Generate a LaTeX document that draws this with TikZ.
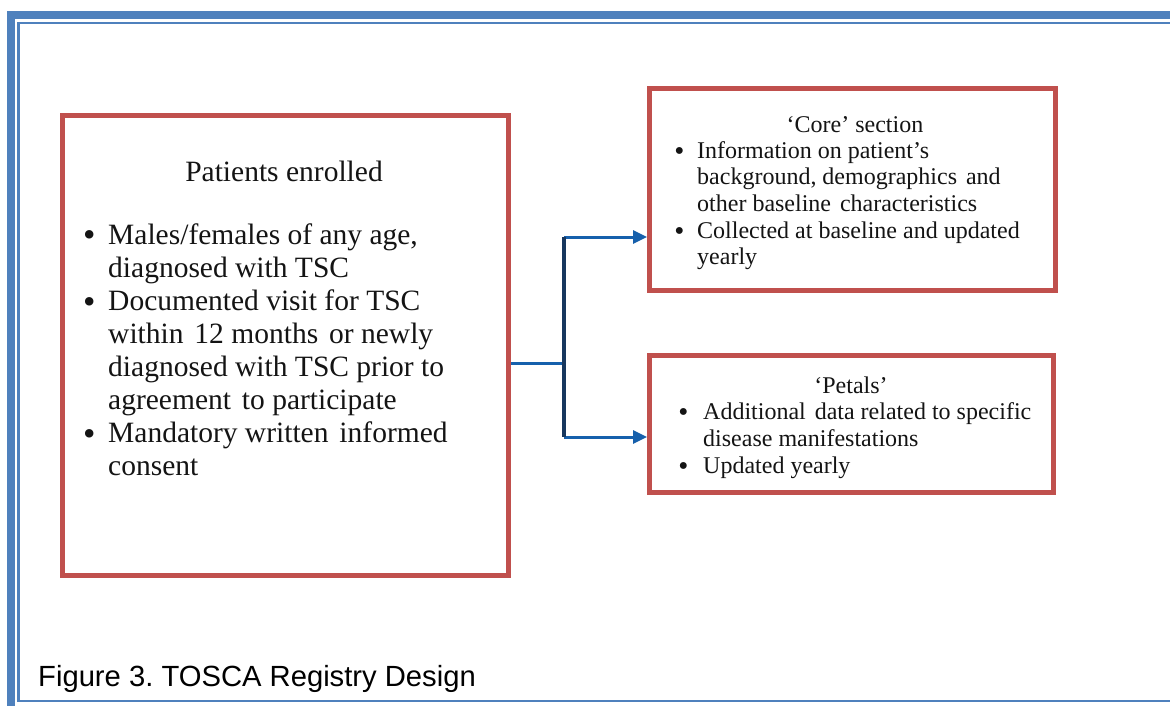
\documentclass[tikz,border=0pt]{standalone}
\usepackage{fontspec}
\setmainfont{Liberation Serif}
\newfontfamily\capfont{Liberation Sans}
\usetikzlibrary{arrows.meta}
\frenchspacing

\definecolor{framebl}{RGB}{79,129,189}
\definecolor{boxred}{RGB}{192,80,77}
\definecolor{arrowbl}{RGB}{22,96,172}
\definecolor{navy}{RGB}{23,55,94}
\definecolor{ink}{RGB}{20,20,20}

\newcommand{\bul}{\raisebox{-0.1em}{\scalebox{1.2}{\textbullet}}}
\newcommand{\gap}{\hspace{0.12em}}

\tikzset{
  box/.style={draw=boxred, line width=5pt, rectangle, inner sep=0pt, line join=miter},
  txt/.style={inner sep=0pt, text=ink, align=left},
  ttl/.style={inner sep=0pt, text=ink, anchor=base},
  link/.style={draw=arrowbl, line width=3pt},
  trunk/.style={draw=navy, line width=4.5pt},
  tip/.style={-{Triangle[length=14pt,width=13pt]}}
}

\begin{document}
\begin{tikzpicture}[x=1pt,y=-1pt]
\useasboundingbox (0,0) rectangle (1170,706);
\clip (0,0) rectangle (1170,706);
\fill[white] (0,0) rectangle (1170,706);

% page frame: thick outer rule and thin inner rule
\draw[framebl, line width=8.3pt] (10.8,15) rectangle (1200,730);
\draw[framebl, line width=2.5pt] (18.7,23) rectangle (1190,701);

% boxes
\node[box, minimum width=446pt, minimum height=459.5pt] (enrol) at (285.5,345.25) {};
\node[box, minimum width=406pt, minimum height=202pt] (core) at (852.5,189.5) {};
\node[box, minimum width=403.5pt, minimum height=137pt] (petals) at (851.25,424) {};

% left box text
\node[ttl, font=\fontsize{29.5}{33.1}\selectfont] (enrolT) at (284,181) {Patients enrolled};
\node[txt, anchor=base west, font=\fontsize{29.5}{33.1}\selectfont] (enrolL) at (83,244)
{\begin{tabular}[t]{@{}p{25pt}@{}l@{}}
\bul & Males/females of any age,\\
     & diagnosed with TSC\\
\bul & Documented visit for TSC\\
     & within \gap 12 months \gap or newly\\
     & diagnosed with TSC prior to\\
     & agreement \gap to participate\\
\bul & Mandatory written \gap informed\\
     & consent
\end{tabular}};

% core section text
\node[ttl, font=\fontsize{24}{26.75}\selectfont] (coreT) at (855,132) {‘Core’ section};
\node[txt, anchor=base west, font=\fontsize{24}{26.75}\selectfont] (coreL) at (674.2,158)
{\begin{tabular}[t]{@{}p{22.8pt}@{}l@{}}
\bul & Information on patient’s\\
     & background, demographics \gap and\\
     & other baseline \gap characteristics\\
\bul & Collected at baseline and updated\\
     & yearly
\end{tabular}};

% petals text
\node[ttl, font=\fontsize{24}{27}\selectfont] (petT) at (851,393) {‘Petals’};
\node[txt, anchor=base west, font=\fontsize{24}{27}\selectfont] (petL) at (678.2,419)
{\begin{tabular}[t]{@{}p{24.8pt}@{}l@{}}
\bul & Additional \gap data related to specific\\
     & disease manifestations\\
\bul & Updated yearly
\end{tabular}};

% connectors
\coordinate (j) at (564,363);
\coordinate (jt) at (564,237);
\coordinate (jb) at (564,437);
\draw[link] (enrol.east |- j) -- (j);
\draw[link, tip] (jt) -- (core.west |- jt);
\draw[link, tip] (jb) -- (petals.west |- jb);
\draw[trunk] (jt) -- (jb);

% caption
\node[inner sep=0pt, anchor=base west, text=black, font=\capfont\fontsize{29.2}{34}\selectfont] (cap) at (38,686) {Figure 3. TOSCA Registry Design};
\end{tikzpicture}
\end{document}
